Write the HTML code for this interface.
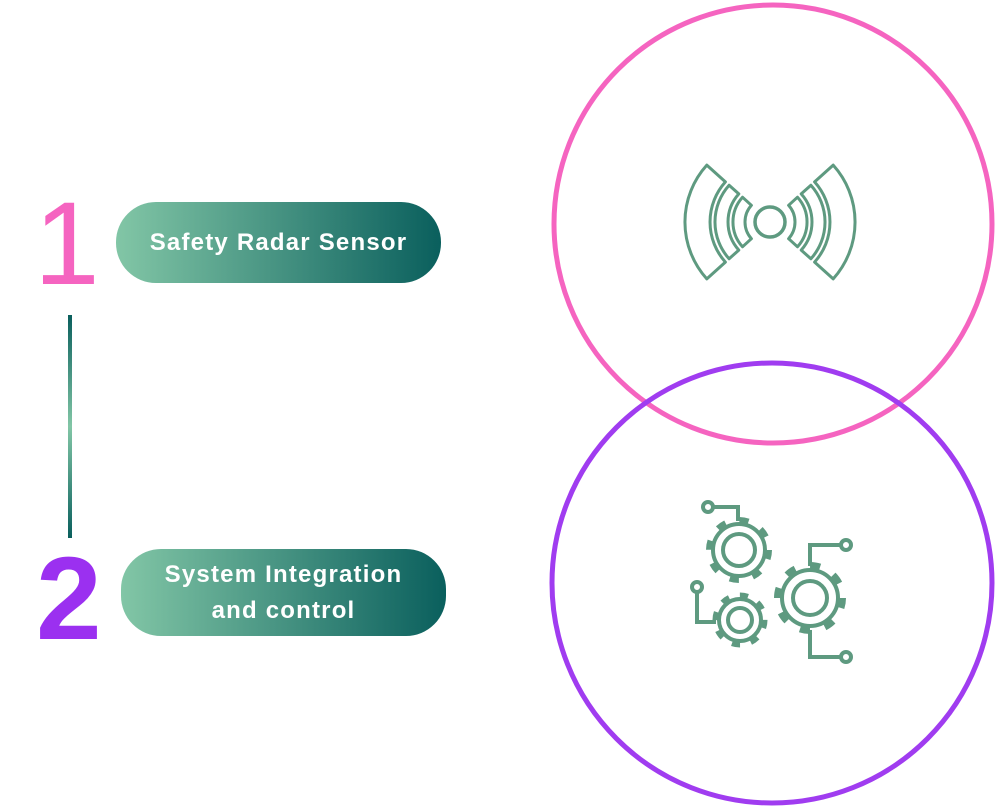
<!DOCTYPE html>
<html><head><meta charset="utf-8"><style>
html,body{margin:0;padding:0;background:#fff;width:996px;height:807px;overflow:hidden;position:relative;font-family:"Liberation Sans",sans-serif}
.num{position:absolute;font-size:118px;line-height:1;}
.pill{position:absolute;border-radius:40px;background:linear-gradient(90deg,#82c6a6,#0a5f5d);color:#fff;font-weight:bold;font-size:24px;display:flex;align-items:center;justify-content:center;text-align:center;line-height:36px;letter-spacing:1.2px}
.vline{position:absolute;left:68px;top:315px;width:4px;height:223px;background:linear-gradient(180deg,#0a5f5d,#82c6a6 50%,#0a5f5d)}
</style></head><body>
<div class="num" style="left:34px;top:185px;color:#f564c0">1</div>
<div class="num" style="left:36px;top:540px;color:#9b30f0;font-weight:bold">2</div>
<div class="pill" style="left:116px;top:202px;width:325px;height:81px">Safety Radar Sensor</div>
<div class="pill" style="left:121px;top:549px;width:325px;height:87px">System Integration<br>and control</div>
<div class="vline"></div>
<svg width="996" height="807" style="position:absolute;left:0;top:0">
<circle cx="773" cy="224" r="219" fill="none" stroke="#f564c0" stroke-width="5"/>
<circle cx="772" cy="583" r="220" fill="none" stroke="#a03cf0" stroke-width="5"/>
<g fill="none" stroke="#5e9a80" stroke-width="3" stroke-linejoin="round">
<circle cx="770" cy="222" r="15" stroke-width="3.5"/>
<path d="M742.5 197.2 A37 37 0 0 0 742.5 246.8 L751.4 238.7 A25 25 0 0 1 751.4 205.3 Z"/>
<path d="M729.1 185.2 A55 55 0 0 0 729.1 258.8 L738.8 250.1 A42 42 0 0 1 738.8 193.9 Z"/>
<path d="M706.8 165.1 A85 85 0 0 0 706.8 278.9 L725.4 262.1 A60 60 0 0 1 725.4 181.9 Z"/>
<path d="M797.5 197.2 A37 37 0 0 1 797.5 246.8 L788.6 238.7 A25 25 0 0 0 788.6 205.3 Z"/>
<path d="M810.9 185.2 A55 55 0 0 1 810.9 258.8 L801.2 250.1 A42 42 0 0 0 801.2 193.9 Z"/>
<path d="M833.2 165.1 A85 85 0 0 1 833.2 278.9 L814.6 262.1 A60 60 0 0 0 814.6 181.9 Z"/>
</g>
<g fill="none" stroke="#5e9a80" stroke-width="4">
<circle cx="739" cy="550" r="16"/><circle cx="739" cy="550" r="26"/>
<circle cx="739" cy="550" r="29" stroke-width="8" stroke-dasharray="9 13.8"/>
<circle cx="740" cy="620" r="12"/><circle cx="740" cy="620" r="21"/>
<circle cx="740" cy="620" r="24" stroke-width="7" stroke-dasharray="8 10.8"/>
<circle cx="810" cy="598" r="17"/><circle cx="810" cy="598" r="28"/>
<circle cx="810" cy="598" r="32" stroke-width="8" stroke-dasharray="10 15.1"/>
<circle cx="708" cy="507" r="5"/><path d="M713 507 H738 V521"/>
<circle cx="697" cy="587" r="5"/><path d="M697 592 V622 H716"/>
<circle cx="846" cy="545" r="5"/><path d="M841 545 H810 V566"/>
<circle cx="846" cy="657" r="5"/><path d="M810 630 V657 H841"/>
</g>
</svg>
</body></html>
